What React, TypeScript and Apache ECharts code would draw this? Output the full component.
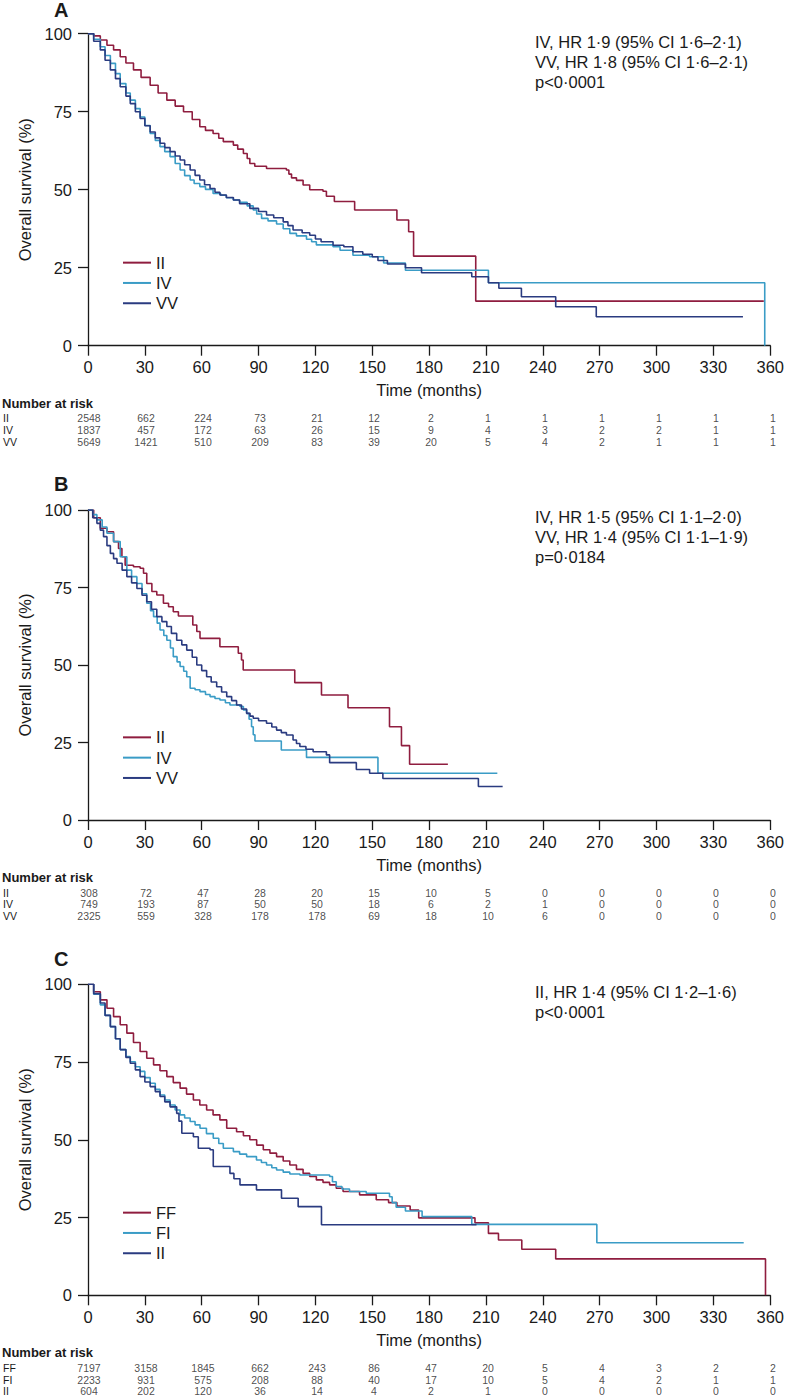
import React, { useEffect, useRef } from 'react';
import * as echarts from 'echarts';

const FONT = '"Liberation Sans", Arial, Helvetica, sans-serif';
const RED = '#8f1d3f';
const TEAL = '#3a9cc6';
const NAVY = '#2a3b80';
const INK = '#1a1a1a';

const xTicks = [0, 30, 60, 90, 120, 150, 180, 210, 240, 270, 300, 330, 360];

// Panel A
const aII = [[0,100],[3,99.3],[6.5,98],[10,96.3],[13.5,94.8],[17,92.6],[20,90.6],[24,88.4],[28,86],[32.8,83.5],[37,81],[41.6,78.7],[46,76.8],[50.4,75],[55,72.5],[59,70.2],[62,69],[66,68],[69,66.5],[71.4,65.4],[76.7,64.3],[79,63],[82,61.6],[84,60],[85.4,58.4],[88,57.5],[94.2,56.8],[104.7,56.3],[106,55],[107.4,53.8],[110,53],[113.5,51.5],[117,50],[124,49.5],[125.8,47.9],[130,46.2],[140.7,43.5],[163,40.3],[169.2,36.5],[171.8,28.7],[204.6,14.3],[356.6,14.3]];
const aIV = [[0,100],[3,98.2],[6.5,95.8],[9,93],[11.8,90.5],[14.5,87.2],[17,84],[20,81],[22.3,78.7],[25,76],[27.5,73.3],[30,70.6],[32.8,68],[35.5,65.8],[38,63.8],[40.5,62.2],[43.3,60.6],[46,58.4],[48.6,56.3],[51,54.5],[53.9,53.1],[56,52],[59,51],[62,50.1],[66,48.8],[70,48.2],[73,47.4],[76.7,46.7],[80,46],[84,44.8],[87.2,43.5],[89,42.2],[91.6,40.8],[95,40],[99.5,39],[103,37.5],[106.5,36],[110,35.2],[115.3,34.1],[118,33.3],[120.5,32.3],[129.3,31.7],[133,30.6],[139.8,29],[148.6,28.5],[156,26.5],[167.5,24.2],[211.3,20.2],[357.1,0]];
const aVV = [[0,100],[3,97.6],[6.5,94.8],[9,91.5],[11.8,88.4],[14.5,85.6],[17,83],[20,80],[22.3,77.6],[25,75],[27.5,72.8],[30,70.5],[32.8,68.5],[35.5,66.6],[38,64.9],[40.5,63.5],[43.3,62.2],[46,60.8],[48.6,59.5],[51,58],[53.9,56.3],[56.5,54.6],[59,53.1],[61.5,51.6],[64.4,50.4],[67,49.2],[69.6,48.3],[73,47.5],[76.7,46.7],[80,45.5],[85.4,44],[90,43],[94.2,41.9],[98,41],[103,39.7],[105.5,38.5],[108.2,37.1],[113,36.2],[117,35.4],[120,34.2],[123,33.3],[129.3,32.2],[135,31.7],[139.8,30.1],[145,29.3],[150,28.5],[153,27.3],[158,26.2],[167.5,25],[176,23.4],[202.5,22.1],[211.3,20.2],[216.8,18.4],[228.7,15.7],[246.8,12.5],[268.2,9.3],[345.6,9.3]];

// Panel B
const bII = [[0,100],[3,97.5],[6.5,94.1],[10,93],[13.5,89.8],[16.1,87.6],[17.9,84.9],[19.6,82.2],[24,81.7],[27.5,81.2],[29.3,79.6],[31,76.3],[33.7,73.7],[36.3,72.6],[39.8,69.9],[42.5,68.8],[45,67.2],[47.7,65.8],[55.3,62.9],[57.4,60.8],[59.1,58.6],[69.6,55.9],[79.3,53.8],[81,51.6],[81.9,48.4],[109.1,44.3],[123.2,40.3],[137.2,36.2],[159.1,30.1],[165.4,24],[169.7,18],[189.9,18]];
const bIV = [[0,100],[2.5,98.5],[4.7,96.8],[7.5,94.5],[10,92.5],[13.5,89.8],[17,84.9],[20.5,80.6],[23,78.5],[25.8,76.3],[28.5,73],[31,69.9],[33,67.5],[34.6,65.6],[36.5,63.5],[38,61.3],[40,59.5],[41.6,58],[43.5,55.5],[45,52.7],[47,51],[48.6,49.5],[50.5,48],[52.1,46.2],[53.9,42.5],[56.5,42],[59.1,41.4],[62,40.5],[64.4,39.8],[67,39.2],[69.6,38.7],[72.5,37.8],[74.9,37.1],[80.2,36.6],[82,35.5],[83.7,34.4],[85,32.5],[86.3,30.1],[87.2,27.5],[88.1,25.5],[102,22.6],[115.3,20.2],[153,15.1],[216,15.1]];
const bVV = [[0,100],[2.5,97.5],[4.7,95.7],[6.5,93.5],[8.2,91.4],[10,88.5],[11.8,86],[13.5,84.3],[15.3,82.8],[18,80.6],[20.5,78.5],[23,76.5],[25.8,74.7],[28.5,72.5],[31,70.4],[33.5,68],[36.3,65.6],[39,64],[41.6,62.4],[44,60.2],[46.8,58],[49.5,56.5],[52.1,54.8],[55,52.5],[57.4,50],[60,48.2],[62.6,46.2],[65,44.5],[67.9,43],[70.5,41.3],[73.2,39.8],[75.8,38.5],[78.4,37.1],[81,35.8],[83.7,34.4],[85.5,33.5],[87.2,32.8],[90,32],[94.2,31.2],[97,30],[99.5,29],[102,28.2],[104.7,27.4],[108.2,25.8],[110,24.7],[111.8,23.7],[115,22.8],[118.8,22],[125.8,21],[127.5,18.5],[141.6,16.3],[148.6,15.1],[155.6,13.4],[206,10.8],[218.8,10.8]];

// Panel C
const cFF = [[0,100],[3,97.6],[6.5,95],[10,92.3],[13.5,89.6],[17,87],[20.5,84.3],[24,81.3],[27.5,78.4],[31,76.2],[34.6,74.1],[38,72.2],[41.6,70.3],[45,68.4],[48.6,66.6],[52,64.7],[55.6,62.8],[59,61.2],[62.6,59.6],[66,58],[69.6,56.4],[73.2,53.7],[78.4,52.6],[82,51.3],[85.4,50],[89,48.3],[92.5,46.8],[96,45.7],[99.5,44.6],[103,43.2],[106.5,41.9],[110,40.5],[113.5,39.2],[117,38.2],[120.5,37.1],[124,36.3],[127.5,35.5],[131,34.4],[134.6,33.4],[143.3,32.3],[152.1,30.7],[158.6,29.8],[163,28.7],[170,27.4],[174.5,24.9],[204.2,23.3],[211.3,19.9],[216.6,17.8],[228.9,14.8],[246.8,11.7],[357.5,11.7],[357.5,0]];
const cFI = [[0,100],[3,96.8],[6.5,93.4],[9,90],[11.8,86.4],[14.5,82.5],[17,79],[20,76.8],[22.3,75.1],[25,73.5],[27.5,72],[30,70],[32.8,68.2],[35.5,66.2],[38,64.4],[40.5,62.8],[43.3,61.2],[46,59.6],[48.6,58],[51,57],[53.9,55.9],[56.5,54.8],[59.1,53.7],[62.5,52],[66.1,50.5],[69,48.8],[71.4,47.3],[76.7,46.2],[80,45.4],[83.7,44.6],[88.9,43.5],[91.5,42.7],[94.2,41.9],[97,41],[99.5,40.3],[103,39.6],[106.5,39],[111.8,38.7],[127.5,38.2],[129,36.5],[131,35],[134,34.2],[138,33.4],[146.8,32.8],[159.1,31.7],[160.5,29.8],[162.6,28.3],[167.5,27.1],[176.3,25.3],[202.5,22.8],[268.5,16.9],[346,16.9]];
const cII = [[0,100],[3,97],[6.5,94],[9,90],[11.8,86.4],[14.5,82.5],[17,79],[20,76.5],[22.3,74.6],[25,72.5],[27.5,70.3],[30,68.6],[32.8,67.1],[35.5,65.5],[38,63.9],[40.5,62.2],[43.3,60.6],[46.8,58.5],[48,56],[49.5,52.1],[55.6,51],[58.2,47.3],[64.4,46.8],[66.1,41.4],[74.9,39.2],[77,37.5],[80.2,35.5],[88.9,33.9],[102.1,31.2],[110.9,28.5],[123.2,22.7],[205,22.7]];

// Number at risk
const riskA = { II: [2548,662,224,73,21,12,2,1,1,1,1,1,1], IV: [1837,457,172,63,26,15,9,4,3,2,2,1,1], VV: [5649,1421,510,209,83,39,20,5,4,2,1,1,1] };
const riskB = { II: [308,72,47,28,20,15,10,5,0,0,0,0,0], IV: [749,193,87,50,50,18,6,2,1,0,0,0,0], VV: [2325,559,328,178,178,69,18,10,6,0,0,0,0] };
const riskC = { FF: [7197,3158,1845,662,243,86,47,20,5,4,3,2,2], FI: [2233,931,575,208,88,40,17,10,5,4,2,1,1], II: [604,202,120,36,14,4,2,1,0,0,0,0,0] };

const annoA = ['IV, HR 1·9 (95% CI 1·6–2·1)', 'VV, HR 1·8 (95% CI 1·6–2·1)', 'p<0·0001'];
const annoB = ['IV, HR 1·5 (95% CI 1·1–2·0)', 'VV, HR 1·4 (95% CI 1·1–1·9)', 'p=0·0184'];
const annoC = ['II, HR 1·4 (95% CI 1·2–1·6)', 'p<0·0001'];

const panels = [
  { key: 'A', top: 33.7, height: 312, curves: [['II', aII, RED], ['IV', aIV, TEAL], ['VV', aVV, NAVY]], risk: riskA, anno: annoA, letterY: 9.5, annoY: 41.7, legendTop: 252.5 },
  { key: 'B', top: 510, height: 310, curves: [['II', bII, RED], ['IV', bIV, TEAL], ['VV', bVV, NAVY]], risk: riskB, anno: annoB, letterY: 484, annoY: 516.7, legendTop: 727.2 },
  { key: 'C', top: 984.3, height: 311, curves: [['FF', cFF, RED], ['FI', cFI, TEAL], ['II', cII, NAVY]], risk: riskC, anno: annoC, letterY: 959, annoY: 991.7, legendTop: 1202.5 },
];

const LEFT = 88;
const WIDTH = 685;

function buildOption() {
  const grid: any[] = [];
  const xAxis: any[] = [];
  const yAxis: any[] = [];
  const series: any[] = [];
  const legend: any[] = [];
  const graphic: any[] = [];
  const axisLineStyle = { color: INK, width: 1.3 };

  panels.forEach((p, i) => {
    grid.push({ left: LEFT, top: p.top, width: WIDTH, height: p.height });
    xAxis.push({
      gridIndex: i, type: 'value', min: 0, max: 360, interval: 30,
      axisLine: { show: true, lineStyle: axisLineStyle },
      axisTick: { show: true, inside: false, length: 10, lineStyle: axisLineStyle },
      axisLabel: { show: true, margin: 13, fontSize: 16.5, color: INK, fontFamily: FONT },
      splitLine: { show: false },
      name: 'Time (months)', nameLocation: 'middle', nameGap: 36,
      nameTextStyle: { fontSize: 16.5, color: INK, fontFamily: FONT },
    });
    yAxis.push({
      gridIndex: i, type: 'value', min: 0, max: 100, interval: 25,
      axisLine: { show: true, lineStyle: axisLineStyle },
      axisTick: { show: true, inside: false, length: 10, lineStyle: axisLineStyle },
      axisLabel: { show: true, margin: 16, fontSize: 16.5, color: INK, fontFamily: FONT },
      splitLine: { show: false },
      name: 'Overall survival (%)', nameLocation: 'middle', nameRotate: 90, nameGap: 53,
      nameTextStyle: { fontSize: 16.5, color: INK, fontFamily: FONT },
    });
    const names: string[] = [];
    p.curves.forEach(([n, d, c]: any) => {
      const nm = p.key + '|' + n;
      names.push(nm);
      series.push({
        name: nm, type: 'line', step: 'end', xAxisIndex: i, yAxisIndex: i,
        data: d, showSymbol: false, symbol: 'none', color: c,
        lineStyle: { color: c, width: 1.6 }, silent: true,
      });
    });
    legend.push({
      data: names, orient: 'vertical', left: 123, top: p.legendTop, padding: 0,
      icon: 'rect', itemWidth: 28, itemHeight: 2, itemGap: 0, selectedMode: false,
      formatter: (name: string) => name.split('|')[1],
      textStyle: { fontSize: 16.5, lineHeight: 20.3, color: INK, fontFamily: FONT },
    });
    graphic.push({
      type: 'text', x: 54, y: p.letterY,
      style: { text: p.key, fontSize: 20, fontWeight: 'bold', fill: INK, fontFamily: FONT, verticalAlign: 'middle' },
    });
    graphic.push({
      type: 'text', x: 535, y: p.annoY - 10,
      style: { text: p.anno.join('\n'), fontSize: 16.5, lineHeight: 20, fill: INK, fontFamily: FONT, verticalAlign: 'top' },
    });
  });

  // Risk tables
  panels.forEach((p, i) => {
    const gi = 3 + i;
    const rowsTop = p.top + p.height + 66.8;
    const rows = Object.keys(p.risk);
    grid.push({ left: LEFT, top: rowsTop, width: WIDTH, height: 35 });
    xAxis.push({ gridIndex: gi, type: 'value', min: 0, max: 360, interval: 30, show: false });
    yAxis.push({
      gridIndex: gi, type: 'category', data: rows, inverse: true,
      axisLine: { show: false }, axisTick: { show: false }, splitLine: { show: false },
      axisLabel: { show: true, interval: 0, align: 'left', margin: 86, fontSize: 10.5, color: INK, fontFamily: FONT },
    });
    rows.forEach((r) => {
      const counts = (p.risk as any)[r] as number[];
      series.push({
        type: 'scatter', xAxisIndex: gi, yAxisIndex: gi, symbolSize: 1, silent: true,
        itemStyle: { color: 'rgba(0,0,0,0)' },
        data: xTicks.map((t, k) => [t, r, counts[k]]),
        labelLayout: { hideOverlap: false },
        label: { show: true, position: 'inside', formatter: (prm: any) => String(prm.value[2]), fontSize: 10.5, color: INK, fontFamily: FONT },
      });
    });
    graphic.push({
      type: 'text', x: 2, y: rowsTop - 9.2,
      style: { text: 'Number at risk', fontSize: 13, fontWeight: 'bold', fill: INK, fontFamily: FONT, verticalAlign: 'middle' },
    });
  });

  return { animation: false, backgroundColor: '#ffffff', grid, xAxis, yAxis, series, legend, graphic };
}

export default function App() {
  const ref = useRef<HTMLDivElement>(null);
  useEffect(() => {
    document.body.style.margin = '0';
    const chart = echarts.init(ref.current!, undefined, { renderer: 'svg' });
    chart.setOption(buildOption() as any);
    return () => chart.dispose();
  }, []);
  return <div ref={ref} style={{ width: 787, height: 1397 }} />;
}
